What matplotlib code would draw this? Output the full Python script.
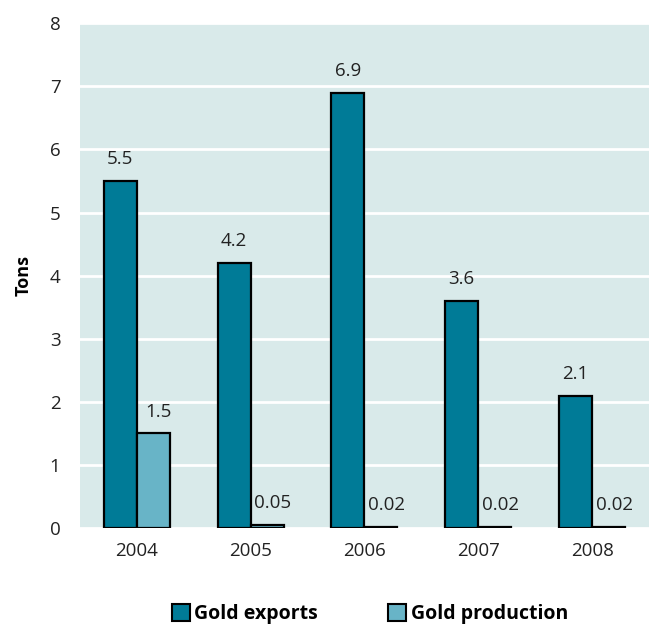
import numpy as np
import matplotlib.pyplot as plt
from matplotlib.patches import Patch

plt.rcParams['font.family'] = ['Open Sans', 'DejaVu Sans']

years = ['2004', '2005', '2006', '2007', '2008']
exports = [5.5, 4.2, 6.9, 3.6, 2.1]
production = [1.5, 0.05, 0.02, 0.02, 0.02]
export_labels = ['5.5', '4.2', '6.9', '3.6', '2.1']
production_labels = ['1.5', '0.05', '0.02', '0.02', '0.02']

c_exp = '#007b97'
c_prod = '#68b4c7'
bg = '#d9eaea'

fig = plt.figure(figsize=(6.49, 6.28), dpi=100)
ax = fig.add_axes([0.123, 0.159, 0.877, 0.804])
ax.set_facecolor(bg)

x = np.arange(len(years))
w = 0.29
ax.bar(x - w/2, exports, w, color=c_exp, edgecolor='black', linewidth=1.6, zorder=3)
ax.bar(x + w/2, production, w, color=c_prod, edgecolor='black', linewidth=1.6, zorder=3)

for xi, v, t in zip(x, exports, export_labels):
    ax.text(xi - w/2, v + 0.2, t, ha='center', va='bottom', fontsize=13.5, color='#222222')
for xi, v, t in zip(x, production, production_labels):
    ax.text(xi + w/2 + 0.05, v + 0.2, t, ha='center', va='bottom', fontsize=13.5, color='#222222')

ax.set_xlim(-0.5, 4.5)
ax.set_ylim(0, 8)
ax.set_yticks(range(0, 9))
ax.set_xticks(x)
ax.set_xticklabels(years)
ax.tick_params(length=0, labelsize=13.5, colors='#222222')
ax.tick_params(axis='y', pad=14)
ax.tick_params(axis='x', pad=10)
ax.yaxis.grid(True, color='white', linewidth=2, zorder=1)
ax.set_axisbelow(True)
for s in ax.spines.values():
    s.set_visible(False)
ax.set_ylabel('Tons', fontsize=13, fontweight='bold', labelpad=12)

handles = [Patch(facecolor=c_exp, edgecolor='black', linewidth=1.5, label='Gold exports'),
           Patch(facecolor=c_prod, edgecolor='black', linewidth=1.5, label='Gold production')]
fig.legend(handles=handles, loc='center', bbox_to_anchor=(0.57, 0.022), ncol=2, frameon=False,
           prop={'weight': 'bold', 'size': 14}, handlelength=0.9, handleheight=0.9,
           handletextpad=0.25, columnspacing=3.6)

fig.savefig('out.png', dpi=100)
